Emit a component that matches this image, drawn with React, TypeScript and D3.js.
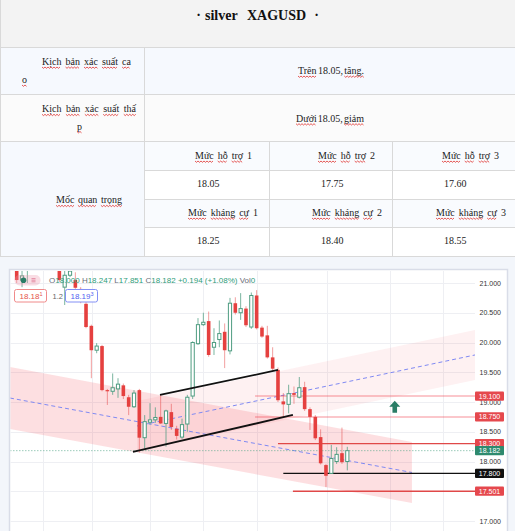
import React from 'react';
import * as d3 from 'd3';

// ---------- DATA ----------
const open = [
  21.40, 21.05, 21.22, 21.35, 21.50, 21.62, 21.50, 21.42, 21.45, 20.93,
  21.13, 21.05, 20.90, 20.65, 20.28, 19.87, 19.94, 19.20, 19.18, 19.22,
  19.28, 19.08, 18.92, 19.20, 18.40, 18.66, 18.70, 18.75, 18.64, 18.83,
  18.55, 18.41, 18.63, 19.10, 19.98, 20.30, 20.36, 19.92, 20.05, 20.18,
  19.86, 20.66, 20.50, 20.57, 20.26, 20.79, 20.25, 20.12, 19.75, 19.54,
  19.01, 18.96, 19.15, 19.08, 19.25, 18.88, 18.75, 18.41, 17.94, 17.80,
  18.00, 18.14, 18.000,
];
const high = [
  21.45, 21.30, 21.45, 21.55, 21.70, 21.75, 21.60, 21.55, 21.50, 21.30,
  21.30, 21.18, 20.93, 20.68, 20.30, 19.99, 19.96, 19.22, 19.48, 19.40,
  19.31, 19.12, 19.20, 19.22, 18.78, 18.98, 18.91, 19.12, 18.87, 18.97,
  18.60, 18.72, 19.12, 20.02, 20.41, 20.50, 20.52, 20.24, 20.37, 20.32,
  20.75, 20.76, 20.83, 20.61, 20.84, 20.88, 20.28, 20.28, 19.92, 19.58,
  19.15, 19.29, 19.26, 19.42, 19.34, 18.91, 18.78, 18.54, 17.96, 18.28,
  18.24, 18.57, 18.247,
];
const low = [
  21.00, 20.93, 21.00, 21.28, 21.40, 21.45, 21.35, 21.30, 21.02, 20.63,
  21.10, 20.90, 20.66, 20.24, 19.40, 19.82, 19.18, 18.95, 19.12, 19.07,
  19.05, 18.78, 18.90, 18.15, 18.22, 18.62, 18.65, 18.63, 18.25, 18.53,
  18.37, 18.38, 18.50, 19.05, 19.96, 20.28, 19.76, 19.79, 19.92, 19.57,
  19.80, 20.47, 20.38, 20.26, 20.23, 20.22, 20.08, 19.73, 19.53, 19.00,
  18.75, 18.81, 18.97, 19.06, 18.85, 18.53, 18.36, 17.95, 17.57, 17.79,
  17.96, 17.96, 17.851,
];
const close = [
  21.05, 21.12, 21.35, 21.50, 21.62, 21.50, 21.42, 21.45, 21.05, 21.13,
  21.20, 20.92, 20.80, 20.26, 19.87, 19.94, 19.20, 19.18, 19.24, 19.30,
  19.10, 18.92, 19.15, 18.40, 18.67, 18.70, 18.74, 18.64, 18.85, 18.58,
  18.43, 18.62, 19.08, 20.00, 20.30, 20.34, 19.79, 20.00, 20.15, 19.87,
  20.66, 20.50, 20.57, 20.29, 20.79, 20.24, 20.10, 19.75, 19.56, 19.03,
  18.96, 19.14, 19.12, 19.24, 18.88, 18.75, 18.39, 17.97, 17.76, 18.05,
  18.12, 17.988, 18.182,
];

const priceTicks = [17.0, 17.5, 18.0, 18.5, 19.0, 19.5, 20.0, 20.5, 21.0];
const timeGridIdx = [4.93, 14.12, 25, 34.93, 45.06, 58.18, 70, 79.94];

// channels (bar index, price)
const lowerChannelIdx = [-1.26, 74.12];
const lowerChannelTop = [19.588, 18.328];
const lowerChannelBottom = [18.546, 17.303];
const upperChannelIdx = [22.56, 90];
const upperChannelTop = [19.017, 20.21 + (90 - 85.93) * 0.01883];
const upperChannelBottom = [18.177, 19.37 + (90 - 85.93) * 0.01883];

// trendlines
const upperTrendIdx = [26.87, 49.0];
const upperTrendPrice = [19.118, 19.538];
const lowerTrendIdx = [21.8, 51.8];
const lowerTrendPrice = [18.16, 18.782];

// horizontal levels
const levelPrices = [19.1, 18.75, 18.3, 17.8, 17.501];
const levelStartIdx = [44.7, 44.7, 49.0, 50.0, 51.8];
const currentPrice = 18.182;

const arrowIdx = 70.9;
const arrowTip = 19.02;
const arrowTail = 18.82;

const bidText = ['18.18', '1'];
const askText = ['18.19', '3'];
const spreadText = '1.2';

// table content
const tableTitle = ['silver', 'XAGUSD'];
const supportLabels = ['1', '2', '3'];
const supports = ['18.05', '17.75', '17.60'];
const resistances = ['18.25', '18.40', '18.55'];

// ---------- HELPERS ----------
const serif = '"Liberation Serif", "Times New Roman", serif';
const sans = '"Liberation Sans", Arial, sans-serif';

let _ctx: CanvasRenderingContext2D | null = null;
function measure(t: string, size: number, weight = 'normal', family = serif) {
  if (!_ctx) _ctx = document.createElement('canvas').getContext('2d');
  if (!_ctx) return t.length * size * 0.5;
  _ctx.font = `${weight} ${size}px ${family}`;
  return _ctx.measureText(t).width;
}

function squiggle(a: number, b: number, yy: number) {
  let d = `M${a.toFixed(2)},${yy}`;
  let up = true;
  for (let t = a + 1.5; t <= b + 0.01; t += 1.5) {
    d += ` L${t.toFixed(2)},${up ? yy + 1.3 : yy}`;
    up = !up;
  }
  return d;
}

function WordLine({ words, x0, x1, y, ul }: { words: string[]; x0: number; x1?: number; y: number; ul?: boolean[] }) {
  const size = 10;
  const ws = words.map((w) => measure(w, size));
  const tot = d3.sum(ws);
  const gap = words.length > 1 && x1 != null ? (x1 - x0 - tot) / (words.length - 1) : 0;
  let cx = x0;
  const items = words.map((w, i) => {
    const xx = cx;
    cx += ws[i] + gap;
    return { w, xx, wd: ws[i], u: ul ? ul[i] : true };
  });
  return (
    <g>
      {items.map((it, i) => (
        <g key={i}>
          <text x={it.xx} y={y} fontFamily={serif} fontSize={size} fill="#222">{it.w}</text>
          {it.u && <path d={squiggle(it.xx, it.xx + it.wd, y + 2)} stroke="#e0302c" strokeWidth={0.8} fill="none" />}
        </g>
      ))}
    </g>
  );
}

export default function App() {
  const W = 515, H = 531;
  const pL = 10, pR = 475, pT = 271, pB = 531;
  const x = d3.scaleLinear().domain([0, open.length - 1]).range([16.7, 347.3]);
  const y = d3.scaleLinear().domain([17, 21]).range([521, 283]);
  const line = d3.line<[number, number]>().x((d) => x(d[0])).y((d) => y(d[1]));

  const band = (idx: number[], top: number[], bot: number[]) => {
    const pts: [number, number][] = [
      ...idx.map((v, i) => [v, top[i]] as [number, number]),
      ...idx.map((v, i) => [v, bot[i]] as [number, number]).reverse(),
    ];
    return line(pts) + 'Z';
  };
  const mid = (a: number[], b: number[]) => a.map((v, i) => (v + b[i]) / 2);

  const red = '#e5403f';
  const green = '#4e9c80';
  const last = open.length - 1;
  const chg = close[last] - close[last - 1];
  const pct = (chg / close[last - 1]) * 100;

  const levelStyles = [
    { c: '#f23645', w: 2, o: 0.28 },
    { c: '#f23645', w: 2, o: 0.28 },
    { c: '#e04848', w: 1.3, o: 1 },
    { c: '#111111', w: 1.3, o: 1 },
    { c: '#e04848', w: 1.6, o: 1 },
  ];
  const badgeColors = ['#e5484d', '#e5484d', '#e5484d', '#111111', '#e5484d'];

  const ax = x(arrowIdx);
  const aT = y(arrowTip), aB = y(arrowTail);
  const arrowPath = `M${ax},${aT} L${ax + 5.5},${aT + 6} L${ax + 2.3},${aT + 6} L${ax + 2.3},${aB} L${ax - 2.3},${aB} L${ax - 2.3},${aT + 6} L${ax - 5.5},${aT + 6} Z`;

  const colX = [144, 269, 392];
  const sp = 2.2;

  return (
    <svg width={W} height={H} style={{ position: 'absolute', left: 0, top: 0, display: 'block' }}>
      <rect x={0} y={0} width={W} height={H} fill="#fff" />
      {/* ---------- TABLE ---------- */}
      <rect x={0} y={0} width={W} height={47} fill="#f3f3f3" />
      <rect x={0} y={47} width={W} height={47} fill="#f6f9fe" />
      <rect x={0} y={94} width={W} height={47} fill="#fbfbfb" />
      <rect x={0} y={141} width={144} height={115} fill="#f6f9fe" />
      <rect x={144} y={141} width={371} height={29} fill="#f9fbfe" />
      <rect x={144} y={199} width={371} height={28} fill="#f9fbfe" />
      <rect x={0} y={256} width={W} height={H - 256} fill="#f3f6fb" />
      <g stroke="#d9d9d9" strokeWidth={1}>
        {[47, 94, 141, 256].map((v) => <line key={v} x1={0} x2={W} y1={v + 0.5} y2={v + 0.5} />)}
        {[170, 199, 227].map((v) => <line key={v} x1={144} x2={W} y1={v + 0.5} y2={v + 0.5} />)}
        <line x1={0.5} x2={0.5} y1={0} y2={256} />
        <line x1={144.5} x2={144.5} y1={47} y2={256} />
        <line x1={269.5} x2={269.5} y1={141} y2={256} />
        <line x1={392.5} x2={392.5} y1={141} y2={256} />
      </g>
      <g fontFamily={serif} fontWeight="bold" fontSize={14} fill="#111">
        <text x={198.5} y={19.5} textAnchor="middle">·</text>
        <text x={205} y={19.5}>{tableTitle[0]}</text>
        <text x={247} y={19.5}>{tableTitle[1]}</text>
        <text x={316.5} y={19.5} textAnchor="middle">·</text>
      </g>
      <WordLine words={['Kịch', 'bản', 'xác', 'suất', 'ca']} x0={42} x1={131} y={65} />
      <WordLine words={['o']} x0={22} y={83} />
      <WordLine words={['Trên', '18.05,', 'tăng.']} x0={298} x1={364} y={74} ul={[true, false, true]} />
      <WordLine words={['Kịch', 'bản', 'xác', 'suất', 'thấ']} x0={42} x1={136} y={112.3} />
      <WordLine words={['p']} x0={77} y={129.5} />
      <WordLine words={['Dưới', '18.05,', 'giảm']} x0={296} x1={364} y={121.7} ul={[true, false, true]} />
      <WordLine words={['Mốc', 'quan', 'trọng']} x0={56} x1={122} y={203.3} />
      {[195, 318, 442].map((sx, i) => (
        <WordLine key={'s' + i} words={['Mức', 'hỗ', 'trợ', supportLabels[i]]} x0={sx} x1={sx + 57} y={159} ul={[true, true, true, false]} />
      ))}
      {[197, 321, 444].map((sx, i) => (
        <WordLine key={'sv' + i} words={[supports[i]]} x0={sx} y={186.7} ul={[false]} />
      ))}
      {[188, 312, 436].map((sx, i) => (
        <WordLine key={'r' + i} words={['Mức', 'kháng', 'cự', supportLabels[i]]} x0={sx} x1={sx + 70} y={216} ul={[true, true, true, false]} />
      ))}
      {[197, 321, 444].map((sx, i) => (
        <WordLine key={'rv' + i} words={[resistances[i]]} x0={sx} y={244.3} ul={[false]} />
      ))}

      {/* ---------- CHART PANEL ---------- */}
      <rect x={9.5} y={269.5} width={498} height={280} fill="#fff" stroke="#d9dde8" strokeWidth={1.5} />
      <defs>
        <clipPath id="plot">
          <rect x={pL + 0.5} y={pT} width={pR - pL - 0.5} height={pB - pT} />
        </clipPath>
      </defs>
      <g clipPath="url(#plot)">
        {/* grid */}
        <g stroke="#eeeff3" strokeWidth={1}>
          {priceTicks.map((p) => <line key={p} x1={pL} x2={pR} y1={Math.round(y(p)) + 0.5} y2={Math.round(y(p)) + 0.5} />)}
          {timeGridIdx.map((t) => <line key={t} x1={Math.round(x(t)) + 0.5} x2={Math.round(x(t)) + 0.5} y1={pT} y2={pB} />)}
        </g>
        {/* channels */}
        <path d={band(upperChannelIdx, upperChannelTop, upperChannelBottom)} fill="#f23645" fillOpacity={0.07} />
        <path d={band(lowerChannelIdx, lowerChannelTop, lowerChannelBottom)} fill="#f23645" fillOpacity={0.16} />
        <path d={line(upperChannelIdx.map((v, i) => [v, mid(upperChannelTop, upperChannelBottom)[i]] as [number, number])) || ''} stroke="#7f89f2" strokeWidth={1} strokeDasharray="4 3" fill="none" />
        <path d={line(lowerChannelIdx.map((v, i) => [v, mid(lowerChannelTop, lowerChannelBottom)[i]] as [number, number])) || ''} stroke="#7f89f2" strokeWidth={1} strokeDasharray="4 3" fill="none" />
        {/* levels */}
        {levelPrices.map((p, i) => (
          <line key={p} x1={x(levelStartIdx[i])} x2={pR} y1={y(p)} y2={y(p)} stroke={levelStyles[i].c} strokeWidth={levelStyles[i].w} strokeOpacity={levelStyles[i].o} />
        ))}
        <line x1={pL} x2={pR} y1={y(currentPrice)} y2={y(currentPrice)} stroke="#5aa88d" strokeOpacity={0.6} strokeDasharray="1.5 1.5" />
        {/* candles */}
        {open.map((o, i) => {
          const c = close[i], h = high[i], l = low[i];
          const up = c >= o;
          const cx = x(i);
          const yt = y(Math.max(o, c)), yb = y(Math.min(o, c));
          const bh = Math.max(1, yb - yt);
          if (up) {
            return (
              <g key={i}>
                <line x1={cx} x2={cx} y1={y(h)} y2={yt} stroke={green} strokeOpacity={0.75} />
                <line x1={cx} x2={cx} y1={yt + bh} y2={y(l)} stroke={green} strokeOpacity={0.75} />
                <rect x={cx - 1.6} y={yt} width={3.2} height={bh} fill="#fff" stroke={green} strokeWidth={1} />
              </g>
            );
          }
          return (
            <g key={i}>
              <line x1={cx} x2={cx} y1={y(h)} y2={y(l)} stroke={red} strokeOpacity={0.5} />
              <rect x={cx - 1.8} y={yt} width={3.6} height={bh} fill={red} />
            </g>
          );
        })}
        {/* trendlines */}
        <path d={line(upperTrendIdx.map((v, i) => [v, upperTrendPrice[i]] as [number, number])) || ''} stroke="#111" strokeWidth={1.8} fill="none" />
        <path d={line(lowerTrendIdx.map((v, i) => [v, lowerTrendPrice[i]] as [number, number])) || ''} stroke="#111" strokeWidth={1.8} fill="none" />
        {/* arrow */}
        <path d={arrowPath} fill="#2a7d66" />
        {/* legend */}
        <rect x={14.5} y={275} width={26} height={10.5} rx={5} fill="#ec96aa" fillOpacity={0.32} />
        <circle cx={23.5} cy={280.2} r={2.8} fill="#2a7d66" />
        <g stroke="#e07a95" strokeWidth={0.8}>
          <line x1={31.5} x2={35.5} y1={278.6} y2={278.6} />
          <line x1={31.5} x2={35.5} y1={280.2} y2={280.2} />
          <line x1={31.5} x2={35.5} y1={281.8} y2={281.8} />
        </g>
        <text x={49} y={283} fontFamily={sans} fontSize={8} fill="#6a6d78">
          <tspan>O</tspan>
          <tspan fill="#2f9d79">{open[last].toFixed(3)}</tspan>
          <tspan dx={sp}>H</tspan>
          <tspan fill="#2f9d79">{high[last].toFixed(3)}</tspan>
          <tspan dx={sp}>L</tspan>
          <tspan fill="#2f9d79">{low[last].toFixed(3)}</tspan>
          <tspan dx={sp}>C</tspan>
          <tspan fill="#2f9d79">{close[last].toFixed(3)}</tspan>
          <tspan dx={sp} fill="#2f9d79">{(chg >= 0 ? '+' : '') + chg.toFixed(3)}</tspan>
          <tspan dx={sp} fill="#2f9d79">{`(${chg >= 0 ? '+' : ''}${pct.toFixed(2)}%)`}</tspan>
          <tspan dx={sp}>Vol</tspan>
          <tspan fill="#2f9d79">0</tspan>
        </text>
        <rect x={14.5} y={289.5} width={32} height={12.5} rx={2} fill="#fff" stroke="#f08a8a" />
        <text x={19.5} y={299} fontFamily={sans} fontSize={8} fill="#e5534b">
          {bidText[0]}<tspan fontSize={5.5} dy={-3}>{bidText[1]}</tspan>
        </text>
        <text x={52.5} y={299} fontFamily={sans} fontSize={7.5} fill="#666">{spreadText}</text>
        <rect x={65.5} y={289.5} width={32} height={12.5} rx={2} fill="#fff" stroke="#8390f5" />
        <text x={70.5} y={299} fontFamily={sans} fontSize={8} fill="#4f5ff0">
          {askText[0]}<tspan fontSize={5.5} dy={-3}>{askText[1]}</tspan>
        </text>
      </g>

      {/* ---------- PRICE AXIS ---------- */}
      <g fontFamily={sans} fontSize={7} fill="#333" textAnchor="end">
        {priceTicks.map((p) => (
          <text key={p} x={501} y={y(p) + 2.5}>{p.toFixed(3)}</text>
        ))}
      </g>
      {levelPrices.map((p, i) => (
        <g key={'b' + p}>
          <rect x={475} y={y(p) - 4.6} width={29} height={9.2} rx={1} fill={badgeColors[i]} />
          <text x={489.5} y={y(p) + 2.5} textAnchor="middle" fontFamily={sans} fontSize={7} fill="#fff">{p.toFixed(3)}</text>
        </g>
      ))}
      <rect x={475} y={y(currentPrice) - 4.6} width={29} height={9.2} rx={1} fill="#2e8a6e" />
      <text x={489.5} y={y(currentPrice) + 2.5} textAnchor="middle" fontFamily={sans} fontSize={7} fill="#fff">{currentPrice.toFixed(3)}</text>
    </svg>
  );
}
